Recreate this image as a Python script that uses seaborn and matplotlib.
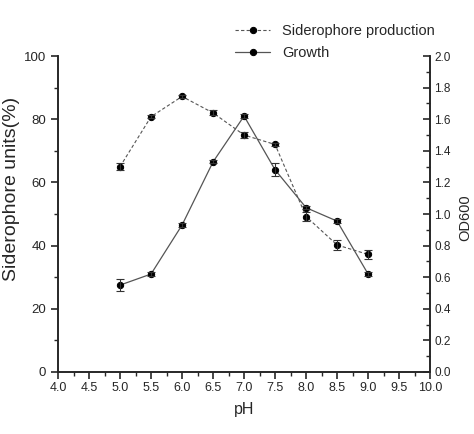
import seaborn as sns
import pandas as pd
import numpy as np
import matplotlib.pyplot as plt
from matplotlib.ticker import MultipleLocator

# Data
ph = [5.0, 5.5, 6.0, 6.5, 7.0, 7.5, 8.0, 8.5, 9.0]
siderophore = [65.0, 80.8, 87.2, 82.0, 75.0, 72.0, 49.2, 40.2, 37.2]
siderophore_err = [1.2, 0.5, 0.5, 0.8, 1.0, 0.5, 1.5, 1.5, 1.5]
growth = [0.55, 0.62, 0.93, 1.33, 1.62, 1.28, 1.04, 0.955, 0.62]
growth_err = [0.04, 0.01, 0.01, 0.01, 0.01, 0.04, 0.01, 0.015, 0.01]
x_ticks = np.arange(4.0, 10.01, 0.5)
od_ticks = np.arange(0, 2.01, 0.2)

df = pd.DataFrame({'pH': ph, 'sid': siderophore, 'growth': growth})

sns.set_style("ticks")
plt.rcParams['font.family'] = ['Liberation Sans', 'DejaVu Sans']

fig = plt.figure(figsize=(4.74, 4.34), dpi=100)
ax = fig.add_axes([0.1224, 0.1429, 0.785, 0.728])
ax2 = ax.twinx()

# Siderophore production (left axis)
sns.lineplot(data=df, x='pH', y='sid', ax=ax, color='#555555', dashes=False,
             linewidth=0.8, marker='o', markersize=4.5, markerfacecolor='black',
             markeredgecolor='black', label='Siderophore production', legend=False)
ax.lines[-1].set_dashes((3, 2))
ax.errorbar(ph, siderophore, yerr=siderophore_err, fmt='none', ecolor='#333333',
            elinewidth=0.8, capsize=3, capthick=0.8)

# Growth (right axis)
sns.lineplot(data=df, x='pH', y='growth', ax=ax2, color='#555555', linestyle='-',
             linewidth=0.9, marker='o', markersize=4.5, markerfacecolor='black',
             markeredgecolor='black', label='Growth', legend=False)
ax2.errorbar(ph, growth, yerr=growth_err, fmt='none', ecolor='#333333',
             elinewidth=0.8, capsize=3, capthick=0.8)

ax.set_xlim(4.0, 10.0)
ax.set_ylim(0, 100)
ax2.set_ylim(0, 2.0)
ax.set_xticks(x_ticks)
ax.set_xticklabels([f'{v:.1f}' for v in x_ticks])
ax.xaxis.set_minor_locator(MultipleLocator(0.25))
ax.set_yticks(range(0, 101, 20))
ax.yaxis.set_minor_locator(MultipleLocator(10))
ax2.set_yticks(od_ticks)
ax2.set_yticklabels([f'{v:.1f}' for v in od_ticks])
ax2.yaxis.set_minor_locator(MultipleLocator(0.1))

for a in (ax, ax2):
    a.spines['top'].set_visible(False)
    for s in a.spines.values():
        s.set_linewidth(1.2)
ax.tick_params(which='major', direction='out', length=5, width=1.2, labelsize=9.5)
ax.tick_params(which='minor', direction='out', length=3, width=1.0)
ax.tick_params(axis='x', labelsize=9, pad=2)
ax2.tick_params(which='major', direction='in', length=5, width=1.2, labelsize=8.5, pad=3)
ax2.tick_params(which='minor', direction='in', length=3, width=1.0)

ax.set_xlabel('pH', fontsize=11.5, labelpad=6)
ax.set_ylabel('Siderophore units(%)', fontsize=14, va='center')
ax.yaxis.set_label_coords(-0.126, 0.58)
ax2.set_ylabel('OD600', fontsize=10.5, va='center')
ax2.yaxis.set_label_coords(1.095, 0.487)

h1, l1 = ax.get_legend_handles_labels()
h2, l2 = ax2.get_legend_handles_labels()
fig.legend(h1 + h2, l1 + l2, loc='upper right', bbox_to_anchor=(0.945, 0.975),
           frameon=False, fontsize=10.5, handlelength=2.4, labelspacing=0.55)

fig.savefig('out.png', dpi=100)
